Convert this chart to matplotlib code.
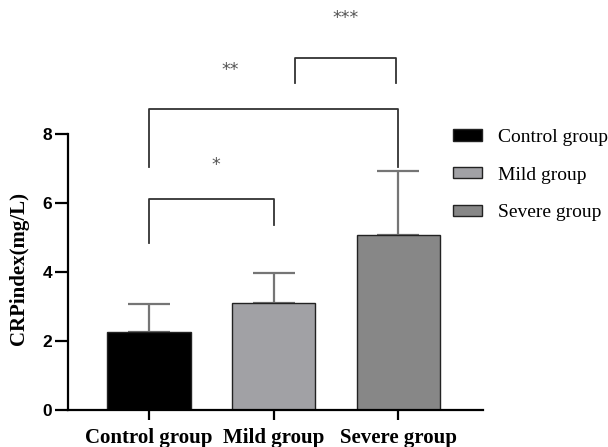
import matplotlib
matplotlib.use("Agg")
import matplotlib.pyplot as plt
from matplotlib.patches import Patch

groups = ["Control group", "Mild group", "Severe group"]
means = [2.27, 3.11, 5.08]
sds = [0.79, 0.87, 1.85]
colors = ["#000000", "#a1a1a5", "#878787"]
y_ticks = [0, 2, 4, 6, 8]
# significance brackets: (x1, x2, top, left leg end, right leg end, label, label x, label y)
brackets = [
    (0, 1, 6.12, 4.84, 5.36, "*", 0.54, 7.1),
    (0, 2, 8.72, 7.04, 7.04, "**", 0.65, 9.85),
    (1.17, 1.98, 10.2, 9.48, 9.48, "***", 1.575, 11.35),
]

fig = plt.figure(figsize=(6.08, 4.47), dpi=100)
ax = fig.add_axes([68/608, 1-410/447, (483-68)/608, 410/447])

x = list(range(len(groups)))
ax.bar(x, means, width=0.667, color=colors, edgecolor="#222222", linewidth=1.0, zorder=2)
ax.errorbar(x, means, yerr=[[0]*3, sds], fmt="none", ecolor="#757575",
            elinewidth=1.6, capsize=15, capthick=1.6, zorder=1)

ax.set_xlim(-0.65, 2.68)
ax.set_ylim(0, 410/34.5)
ax.spines["top"].set_visible(False)
ax.spines["right"].set_visible(False)
ax.spines["left"].set_bounds(0, 8)
ax.spines["left"].set_linewidth(1.6)
ax.spines["bottom"].set_linewidth(1.6)
ax.set_yticks(y_ticks)
ax.set_yticklabels([str(v) for v in y_ticks], fontfamily="Liberation Sans", fontweight="bold", fontsize=12.5)
ax.tick_params(axis="y", length=9.5, width=1.6, pad=2)
ax.set_xticks(x)
ax.set_xticklabels(groups, fontfamily="Liberation Serif", fontweight="bold", fontsize=15)
ax.tick_params(axis="x", length=7, width=1.6, pad=6)
ax.set_ylabel("CRPindex(mg/L)", fontfamily="Liberation Serif", fontweight="bold", fontsize=15)
ax.yaxis.set_label_coords(-0.094, 0.345)

for x1, x2, top, l1, l2, lab, lx, ly in brackets:
    ax.plot([x1, x1, x2, x2], [l1, top, top, l2], color="#333333", lw=1.3, clip_on=False)
    ax.text(lx, ly, lab, ha="center", va="center", color="#555555", fontsize=12.5,
            fontfamily="DejaVu Sans")

handles = [Patch(facecolor=c, edgecolor="#222222", linewidth=1.0) for c in colors]
fig.legend(handles, groups, loc="upper left", bbox_to_anchor=(449/608, 1-125/447),
           frameon=False, prop={"family": "Liberation Serif", "size": 14},
           handlelength=1.5, handleheight=0.5, labelspacing=1.06, handletextpad=0.8,
           borderaxespad=0, borderpad=0.2)

fig.savefig("out.png", dpi=100)
